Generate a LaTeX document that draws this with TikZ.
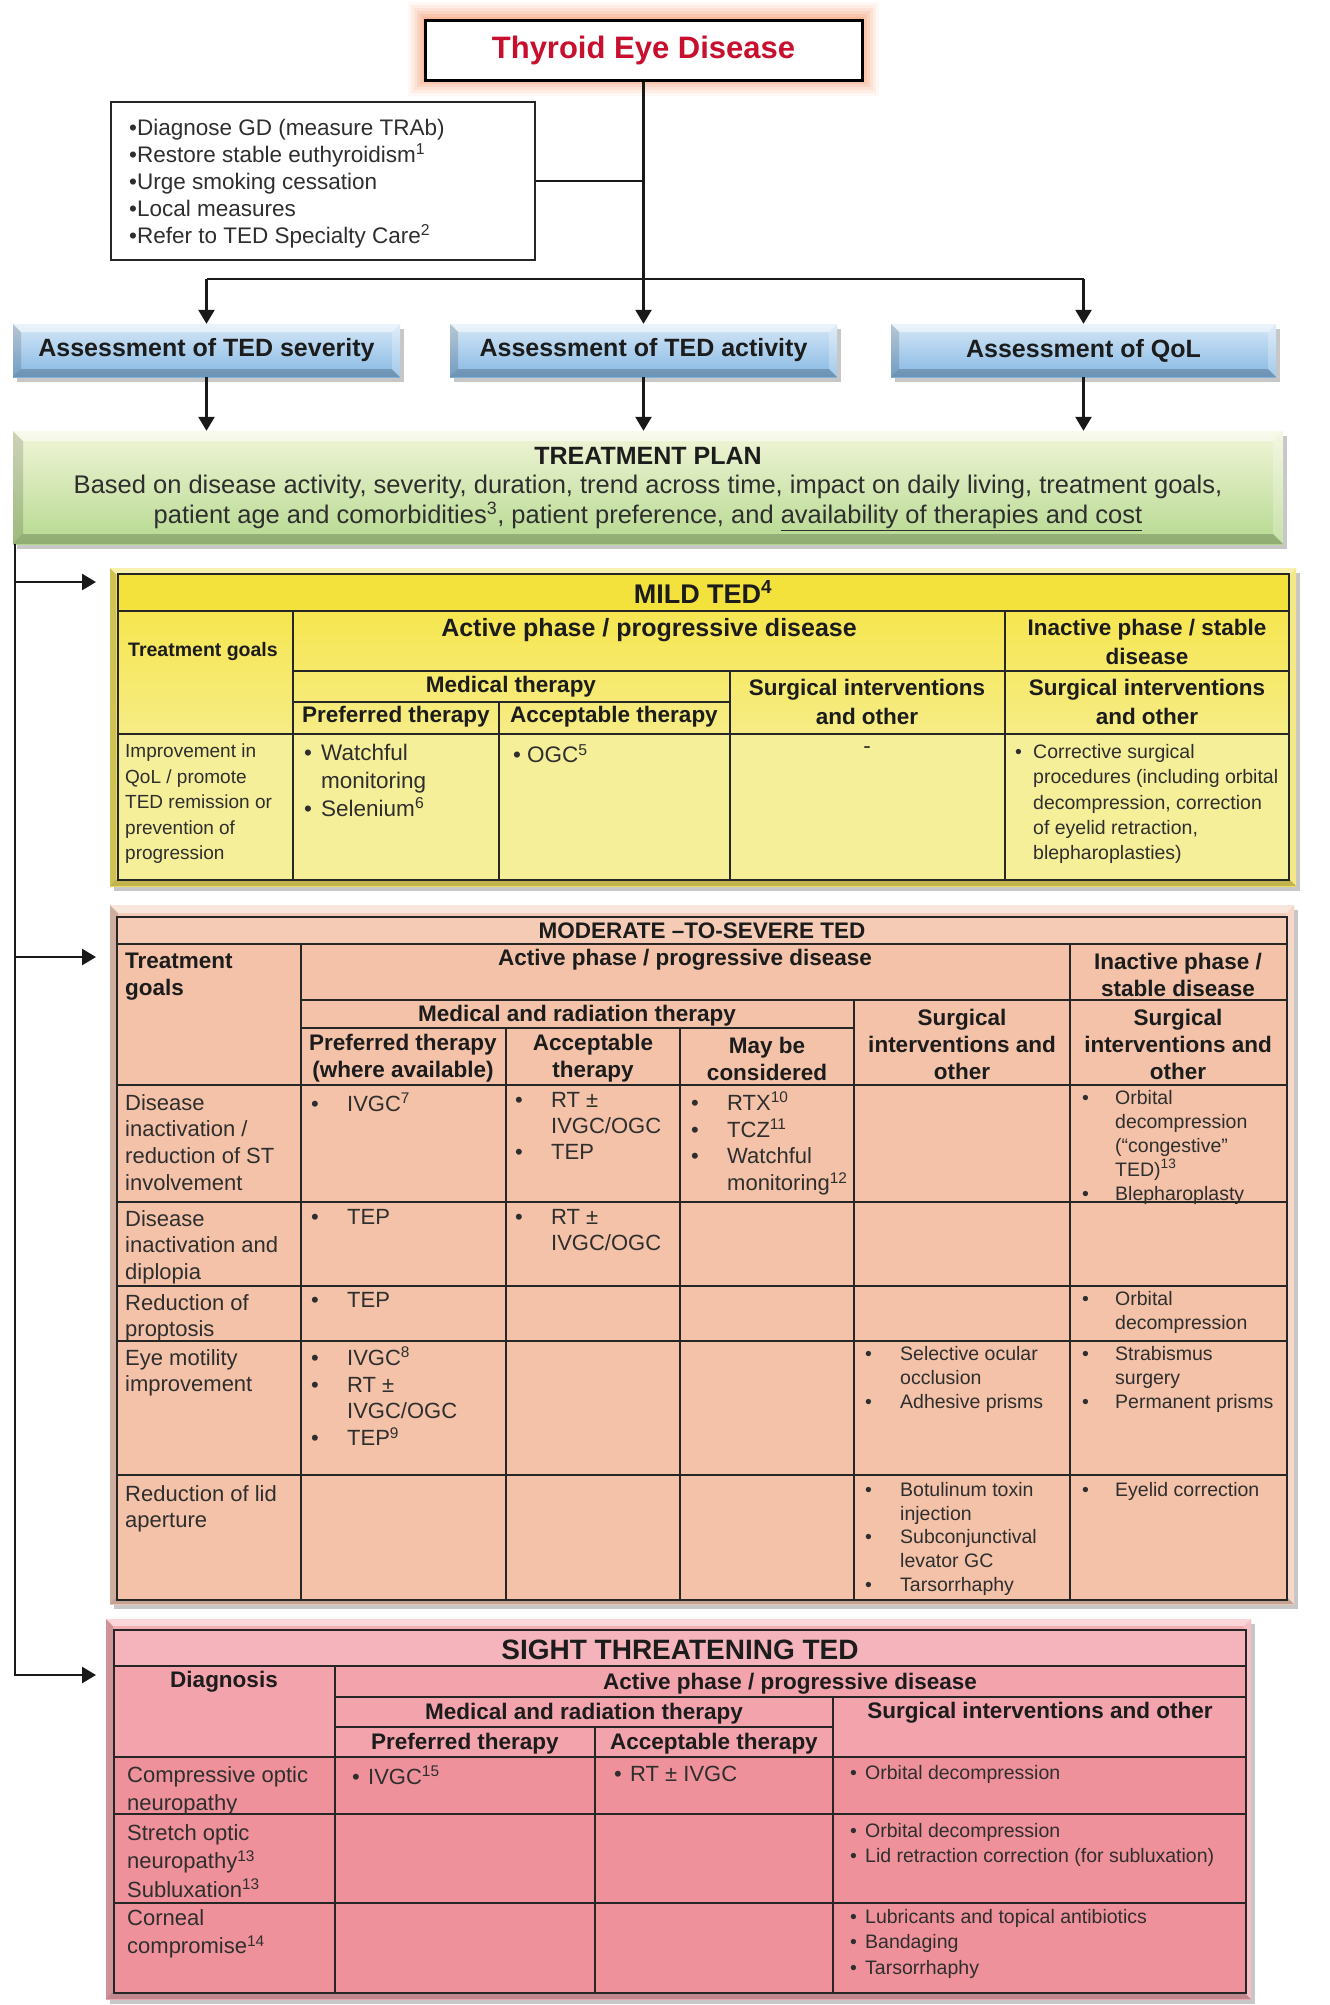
\documentclass[tikz,border=0pt]{standalone}
\usepackage{fontspec}
\setmainfont{Liberation Sans}
\usetikzlibrary{arrows.meta}
\definecolor{tred}{HTML}{C8102E}
\definecolor{glow}{HTML}{F5905E}
\definecolor{txt}{HTML}{2E2E2E}
\definecolor{txth}{HTML}{1C1C1C}
\definecolor{blueT}{HTML}{D5E7F7}
\definecolor{blueB}{HTML}{86B8E3}
\definecolor{greenT}{HTML}{F1F5D8}
\definecolor{greenB}{HTML}{B6D990}
\definecolor{mildA}{HTML}{F4E23C}
\definecolor{mildB}{HTML}{F6E650}
\definecolor{mildC}{HTML}{F6EC85}
\definecolor{mildD}{HTML}{F6EF9A}
\definecolor{mildF}{HTML}{F2E260}
\definecolor{modA}{HTML}{F5CBB6}
\definecolor{modB}{HTML}{F3C2A8}
\definecolor{modF}{HTML}{F2CBB8}
\definecolor{sigA}{HTML}{F5B4BC}
\definecolor{sigB}{HTML}{F2A3AC}
\definecolor{sigC}{HTML}{EF919A}
\definecolor{sigF}{HTML}{F3AAB3}
\definecolor{grid}{HTML}{262626}
\newcommand\bevelbox[7]{%
  \fill[black,opacity=.22] (#1+4,#2+5) rectangle (#3+4,#4+5);
  \fill[top color=#6,bottom color=#7] (#1,#2) rectangle (#3,#4);
  \fill[white,opacity=.5] (#1,#2)--(#3,#2)--(#3-#5,#2+#5)--(#1+#5,#2+#5)--cycle;
  \fill[black,opacity=.14] (#1,#2)--(#1+#5,#2+#5)--(#1+#5,#4-#5)--(#1,#4)--cycle;
  \fill[black,opacity=.2] (#1,#4)--(#1+#5,#4-#5)--(#3-#5,#4-#5)--(#3,#4)--cycle;
  \fill[white,opacity=.25] (#3,#2)--(#3,#4)--(#3-#5,#4-#5)--(#3-#5,#2+#5)--cycle;
}
\newcommand\tbul[1]{\makebox[#1][l]{•}}
\newcommand\tind[1]{\hspace*{#1}}
\newcommand\bA{\tbul{36pt}}
\newcommand\iA{\tind{36pt}}
\newcommand\bS{\tbul{33pt}}
\newcommand\iS{\tind{33pt}}
\tikzset{
 conn/.style={draw=black!90, line width=2.6pt},
 arr/.style={conn, -{Triangle[length=14pt,width=16pt]}},
 gl/.style={draw=grid, line width=2.4pt},
 gm/.style={draw=grid, line width=2.8pt},
 hb/.style={font=\fontsize{22.5}{27}\selectfont\bfseries, text=txth, align=center},
 hb2/.style={font=\fontsize{22.5}{29}\selectfont\bfseries, text=txth, align=center},
 bodyL/.style={font=\fontsize{22}{26.7}\selectfont, text=txt, align=left, anchor=north west},
 bodyS/.style={font=\fontsize{19.5}{24}\selectfont, text=txt, align=left, anchor=north west},
 sL/.style={bodyL, font=\fontsize{22}{28.5}\selectfont},
 sS/.style={bodyS, font=\fontsize{19.5}{25.6}\selectfont},
 abox/.style={minimum width=387pt, minimum height=53pt, font=\fontsize{25}{30}\selectfont\bfseries, text=txth},
}
\begin{document}
\begin{tikzpicture}[x=1pt,y=-1pt, every node/.style={inner sep=0pt}]
\useasboundingbox (0,0) rectangle (1330,2005);
\fill[white] (0,0) rectangle (1330,2005);

% ---------- title ----------
\foreach \i/\o in {17/0.07,14/0.09,11/0.12,8/0.15,5/0.2,2/0.25} {\fill[glow,opacity=\o] (425-\i,19-\i) rectangle (862+\i,79+\i);}
\node[draw=black,line width=3pt,fill=white,minimum width=437pt,minimum height=60pt,
      font=\fontsize{31}{36}\selectfont\bfseries,text=tred] (title) at (643.5,50) {Thyroid Eye Disease};

% ---------- goals box ----------
\node[draw=black!85,line width=2.6pt,minimum width=424pt,minimum height=158pt] (goals) at (323,181) {};
\node[anchor=north west,font=\fontsize{22.5}{26.9}\selectfont,text=txt,align=left] (goaltext) at (129,119)
 {•Diagnose GD (measure TRAb)\\•Restore stable euthyroidism\textsuperscript{1}\\•Urge smoking cessation\\•Local measures\\•Refer to TED Specialty Care\textsuperscript{2}};

% ---------- assessment boxes ----------
\bevelbox{13}{324}{400}{377}{8}{blueT}{blueB}
\node[abox] (a1) at (206.5,350.5) {Assessment of TED severity};
\bevelbox{450}{324}{837}{377}{8}{blueT}{blueB}
\node[abox] (a2) at (643.5,350.5) {Assessment of TED activity};
\bevelbox{891}{324}{1276}{377}{8}{blueT}{blueB}
\node[abox] (a3) at (1083.5,350.5) {Assessment of QoL};

% ---------- treatment plan ----------
\bevelbox{13}{431}{1283}{544}{10}{greenT}{greenB}
\node[minimum width=1270pt,minimum height=113pt] (plan) at (648,487.5) {};
\node[font=\fontsize{25}{30}\selectfont\bfseries,text=txth] (plantitle) at (648,456) {TREATMENT PLAN};
\node[font=\fontsize{25.5}{29.5}\selectfont,text=txt,align=center] (plantext) at (648,503)
 {Based on disease activity, severity, duration, trend across time, impact on daily living, treatment goals,\\patient age and comorbidities\textsuperscript{3}, patient preference, and \underline{availability of therapies and cost}};

% ---------- connectors top ----------
\coordinate (hy) at (0,279);
\draw[conn] (title.south) -- (title.south |- hy);
\draw[conn] (goals.east) -- (goals.east -| title.south);
\draw[conn] (a1.north |- hy) -- (a3.north |- hy);
\foreach \n in {a1,a2,a3} {
  \draw[arr] (\n.north |- hy) -- (\n.north);
  \draw[arr] (\n.south) -- (\n.south |- plan.north);
}

% ---------- left connectors ----------
\coordinate (m1) at (96,582);
\coordinate (m2) at (96,957);
\coordinate (m3) at (96,1675);
\draw[arr] ([xshift=2pt]plan.south west) -- ([xshift=2pt]plan.south west |- m3) -- (m3);
\draw[arr] ([xshift=2pt]plan.south west |- m1) -- (m1);
\draw[arr] ([xshift=2pt]plan.south west |- m2) -- (m2);

% ---------- MILD table ----------
\bevelbox{110}{568}{1296}{886}{6}{mildF}{mildF}
\fill[mildA] (118,574) rectangle (1289,611);
\fill[top color=mildB,bottom color=mildC] (118,611) rectangle (1289,734);
\fill[mildD] (118,734) rectangle (1289,880);
\draw[gl] (118,574) rectangle (1289,880);
\draw[gl] (118,611) -- (1289,611);
\draw[gl] (293,671) -- (1289,671);
\draw[gl] (293,702) -- (730,702);
\draw[gl] (118,734) -- (1289,734);
\draw[gl] (293,611) -- (293,880);
\draw[gl] (499,702) -- (499,880);
\draw[gl] (730,671) -- (730,880);
\draw[gl] (1005,611) -- (1005,880);

\node[font=\fontsize{27}{32}\selectfont\bfseries,text=txth] (mildtitle) at (703,592) {MILD TED\textsuperscript{4}};
\node[font=\fontsize{19.5}{24}\selectfont\bfseries,text=txth] (mgoal) at (203,651) {Treatment goals};
\node[font=\fontsize{25}{30}\selectfont\bfseries,text=txth] (mact) at (649,630) {Active phase / progressive disease};
\node[hb2] (minact) at (1147,641.5) {Inactive phase / stable\\disease};
\node[hb] (mmed) at (511,687) {Medical therapy};
\node[hb2] (msurg) at (867,701.5) {Surgical interventions\\and other};
\node[hb2] (msurgb) at (1147,701.5) {Surgical interventions\\and other};
\node[hb] (mpref) at (396,717) {Preferred therapy};
\node[hb] (macc) at (614,717) {Acceptable therapy};

\node[anchor=north west,font=\fontsize{19}{25.4}\selectfont,text=txt,align=left] (mb1) at (125,744)
 {Improvement in\\QoL / promote\\TED remission or\\prevention of\\progression};
\node[anchor=north west,font=\fontsize{22.5}{28}\selectfont,text=txt,align=left] (mb2) at (304,744)
 {\tbul{17pt}Watchful\\\tind{17pt}monitoring\\\tbul{17pt}Selenium\textsuperscript{6}};
\node[anchor=north west,font=\fontsize{22.5}{28}\selectfont,text=txt,align=left] (mb3) at (513,744)
 {\tbul{14pt}OGC\textsuperscript{5}};
\node[font=\fontsize{22.5}{28}\selectfont,text=txt] (mb4) at (867,750) {-};
\node[anchor=north west,font=\fontsize{19.5}{25.4}\selectfont,text=txt,align=left] (mb5) at (1015,744)
 {\tbul{18pt}Corrective surgical\\\tind{18pt}procedures (including orbital\\\tind{18pt}decompression, correction\\\tind{18pt}of eyelid retraction,\\\tind{18pt}blepharoplasties)};

% ---------- MODERATE table ----------
\bevelbox{110}{905}{1294}{1604}{8}{modF}{modF}
\fill[modA] (117,917) rectangle (1287,944);
\fill[modB] (117,944) rectangle (1287,1600);
\draw[gm] (117,917) rectangle (1287,1600);
\draw[gm] (117,944) -- (1287,944);
\draw[gm] (301,1000) -- (1287,1000);
\draw[gm] (301,1028) -- (854,1028);
\foreach \yy in {1085,1202,1286,1341,1475} {\draw[gm] (117,\yy) -- (1287,\yy);}
\draw[gm] (301,944) -- (301,1600);
\draw[gm] (506,1028) -- (506,1600);
\draw[gm] (680,1028) -- (680,1600);
\draw[gm] (854,1000) -- (854,1600);
\draw[gm] (1070,944) -- (1070,1600);

\node[hb] (dtitle) at (702,931) {MODERATE –TO-SEVERE TED};
\node[hb,align=left,anchor=north west] (dgoal) at (125,953) {Treatment\\goals};
\node[hb] (dact) at (685,960) {Active phase / progressive disease};
\node[hb] (dinact) at (1178,974.5) {Inactive phase /\\stable disease};
\node[hb] (dmed) at (577,1016) {Medical and radiation therapy};
\node[hb] (dpref) at (403,1058.5) {Preferred therapy\\(where available)};
\node[hb] (dacc) at (593,1058.5) {Acceptable\\therapy};
\node[hb] (dmay) at (767,1058.5) {May be\\considered};
\node[hb] (dsurg) at (962,1044) {Surgical\\interventions and\\other};
\node[hb] (dsurgb) at (1178,1044) {Surgical\\interventions and\\other};

\node[bodyL] (d11) at (125,1094) {Disease\\inactivation /\\reduction of ST\\involvement};
\node[bodyL] (d12) at (311,1093) {\bA IVGC\textsuperscript{7}};
\node[bodyL,font=\fontsize{22}{26}\selectfont] (d13) at (515,1092) {\bA RT ±\\\iA IVGC/OGC\\\bA TEP};
\node[bodyL] (d14) at (691,1092) {\bA RTX\textsuperscript{10}\\\bA TCZ\textsuperscript{11}\\\bA Watchful\\\iA monitoring\textsuperscript{12}};
\node[bodyS] (d16) at (1082,1090) {\bS Orbital\\\iS decompression\\\iS (“congestive”\\\iS TED)\textsuperscript{13}\\\bS Blepharoplasty};

\node[bodyL] (d21) at (125,1210) {Disease\\inactivation and\\diplopia};
\node[bodyL] (d22) at (311,1209) {\bA TEP};
\node[bodyL,font=\fontsize{22}{26}\selectfont] (d23) at (515,1209) {\bA RT ±\\\iA IVGC/OGC};

\node[bodyL] (d31) at (125,1294) {Reduction of\\proptosis};
\node[bodyL] (d32) at (311,1292) {\bA TEP};
\node[bodyS] (d36) at (1082,1291) {\bS Orbital\\\iS decompression};

\node[bodyL] (d41) at (125,1349) {Eye motility\\improvement};
\node[bodyL] (d42) at (311,1347) {\bA IVGC\textsuperscript{8}\\\bA RT ±\\\iA IVGC/OGC\\\bA TEP\textsuperscript{9}};
\node[bodyS] (d45) at (865,1346) {\tbul{35pt}Selective ocular\\\tind{35pt}occlusion\\\tbul{35pt}Adhesive prisms};
\node[bodyS] (d46) at (1082,1346) {\bS Strabismus\\\iS surgery\\\bS Permanent prisms};

\node[bodyL] (d51) at (125,1485) {Reduction of lid\\aperture};
\node[bodyS,font=\fontsize{19.5}{23.7}\selectfont] (d55) at (865,1482) {\tbul{35pt}Botulinum toxin\\\tind{35pt}injection\\\tbul{35pt}Subconjunctival\\\tind{35pt}levator GC\\\tbul{35pt}Tarsorrhaphy};
\node[bodyS] (d56) at (1082,1482) {\bS Eyelid correction};

% ---------- SIGHT THREATENING table ----------
\bevelbox{106}{1619}{1251}{1999}{7}{sigF}{sigF}
\fill[sigA] (114,1630) rectangle (1246,1666);
\fill[sigB] (114,1666) rectangle (1246,1757);
\fill[sigC] (114,1757) rectangle (1246,1993);
\draw[gl] (114,1630) rectangle (1246,1993);
\draw[gl] (114,1666) -- (1246,1666);
\draw[gl] (335,1697) -- (1246,1697);
\draw[gl] (335,1727) -- (833,1727);
\foreach \yy in {1757,1814,1903} {\draw[gl] (114,\yy) -- (1246,\yy);}
\draw[gl] (335,1666) -- (335,1993);
\draw[gl] (595,1727) -- (595,1993);
\draw[gl] (833,1697) -- (833,1993);

\node[font=\fontsize{28}{33}\selectfont\bfseries,text=txth] (stitle) at (680,1650) {SIGHT THREATENING TED};
\node[hb] (sdiag) at (224,1682) {Diagnosis};
\node[hb] (sact) at (790,1684) {Active phase / progressive disease};
\node[hb] (smed) at (584,1714) {Medical and radiation therapy};
\node[hb] (ssurg) at (1040,1713) {Surgical interventions and other};
\node[hb] (spref) at (465,1744) {Preferred therapy};
\node[hb] (sacc) at (714,1744) {Acceptable therapy};

\node[sL] (s11) at (127,1766) {Compressive optic\\neuropathy};
\node[sL] (s12) at (352,1766) {\tbul{16pt}IVGC\textsuperscript{15}};
\node[sL] (s13) at (614,1766) {\tbul{16pt}RT ± IVGC};
\node[sS] (s14) at (850,1765) {\tbul{15pt}Orbital decompression};
\node[sL] (s21) at (127,1824) {Stretch optic\\neuropathy\textsuperscript{13}\\Subluxation\textsuperscript{13}};
\node[sS] (s24) at (850,1823) {\tbul{15pt}Orbital decompression\\\tbul{15pt}Lid retraction correction (for subluxation)};
\node[sL] (s31) at (127,1909) {Corneal\\compromise\textsuperscript{14}};
\node[sS] (s34) at (850,1909) {\tbul{15pt}Lubricants and topical antibiotics\\\tbul{15pt}Bandaging\\\tbul{15pt}Tarsorrhaphy};
\end{tikzpicture}
\end{document}
